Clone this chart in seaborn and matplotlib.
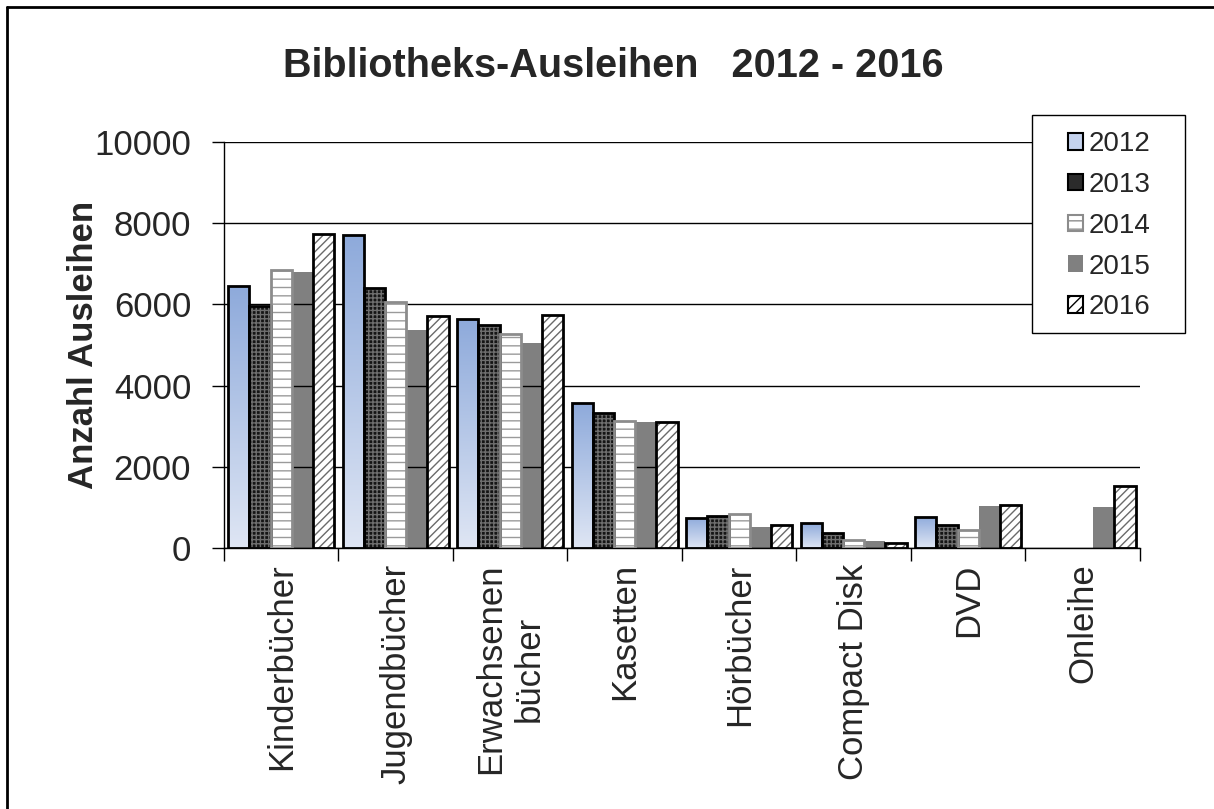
"""
Bibliotheks-Ausleihen 2012 - 2016 as grouped bar chart.
"""
import numpy as np
import pandas as pd
import matplotlib
matplotlib.use("Agg")
import matplotlib.pyplot as plt
import seaborn as sns
from matplotlib.patches import Patch, Rectangle
from matplotlib.colors import LinearSegmentedColormap

# Data
categories = ["Kinderbücher", "Jugendbücher", "Erwachsenen\nbücher", "Kasetten",
              "Hörbücher", "Compact Disk", "DVD", "Onleihe"]
years = ["2012", "2013", "2014", "2015", "2016"]
v2012 = [6450, 7700, 5630, 3560, 740, 615, 770, np.nan]
v2013 = [5950, 6400, 5500, 3330, 790, 375, 565, np.nan]
v2014 = [6850, 6050, 5260, 3140, 835, 190, 435, np.nan]
v2015 = [6800, 5380, 5040, 3100, 525, 180, 1040, 1010]
v2016 = [7730, 5720, 5740, 3110, 565, 130, 1050, 1535]
yticks = [0, 2000, 4000, 6000, 8000, 10000]

series = dict(zip(years, [v2012, v2013, v2014, v2015, v2016]))
rows = []
for year, vals in series.items():
    for cat, v in zip(categories, vals):
        rows.append({"Kategorie": cat, "Jahr": year, "Ausleihen": v})
df = pd.DataFrame(rows).dropna()

sns.set_style("white")
plt.rcParams['font.family'] = ['Liberation Sans', 'DejaVu Sans']
plt.rcParams['hatch.linewidth'] = 1.0

# face, hatch, hatch colour, edge colour, edge width
styles = {
    "2012": (None, None, None, "black", 2.0),
    "2013": ("#151515", "++++", "#6e6e6e", "black", 2.0),
    "2014": ("white", "--", "#9a9a9a", "#8c8c8c", 2.0),
    "2015": ("#808080", None, None, "none", 0.0),
    "2016": ("white", "////", "#6a6a6a", "black", 2.0),
}
blue_grad = LinearSegmentedColormap.from_list("blue_grad", ["#dfe6f4", "#8eaadb"])

fig = plt.figure(figsize=(12.14, 8.09), dpi=100)
ax = fig.add_axes([0.1845, 0.3226, 0.7545, 0.5019])

sns.barplot(data=df, x="Kategorie", y="Ausleihen", hue="Jahr", order=categories,
            hue_order=years, width=0.925, gap=0, saturation=1, errorbar=None,
            legend=False, ax=ax)

for year, container in zip(years, ax.containers):
    face, hatch, hcol, ecol, lw = styles[year]
    for bar in container:
        x0, w, h = bar.get_x(), bar.get_width(), bar.get_height()
        if year == "2012":
            bar.set_facecolor("none")
            bar.set_edgecolor("black")
            bar.set_linewidth(lw)
            bar.set_zorder(3)
            grad = np.linspace(0, 1, 256).reshape(-1, 1)
            img = ax.imshow(grad, cmap=blue_grad, aspect="auto", origin="lower",
                            extent=(x0, x0 + w, 0, h), zorder=2)
            img.set_clip_path(bar)
            continue
        bar.set_facecolor(face)
        if year == "2015":
            bar.set_edgecolor("none")
            bar.set_linewidth(0)
            bar.set_zorder(0.3)
            continue
        if hatch:
            bar.set_hatch(hatch)
            bar.set_edgecolor(hcol)
            bar.set_linewidth(0)
            bar.set_zorder(2)
            ax.add_patch(Rectangle((x0, 0), w, h, fill=False, edgecolor=ecol,
                                   linewidth=lw, zorder=3))

ax.set_xlim(-0.5, len(categories) - 0.5)
ax.set_ylim(0, 10000)
ax.set_yticks(yticks)
ax.set_axisbelow(True)
ax.yaxis.grid(True, color="black", linewidth=1.0, zorder=0.5)
ax.xaxis.grid(False)

for side in ["top", "right"]:
    ax.spines[side].set_visible(False)
for side in ["left", "bottom"]:
    ax.spines[side].set_color("black")
    ax.spines[side].set_linewidth(1.0)

ax.set_xticks(range(len(categories)))
ax.set_xticklabels(categories, rotation=90, fontsize=25)
ax.set_xticks(np.arange(-0.5, len(categories)), minor=True)
ax.tick_params(axis="x", which="major", length=0, pad=11)
ax.tick_params(axis="x", which="minor", length=9.5, width=1, color="black",
               direction="out", bottom=True)
ax.tick_params(axis="y", length=8.6, width=1, color="black", direction="out",
               pad=15, labelsize=25, left=True)

ax.set_xlabel("")
ax.set_ylabel("Anzahl Ausleihen", fontsize=25, fontweight="bold")
ax.yaxis.set_label_coords(-0.135, 0.5)

fig.text(0.505, 0.918, "Bibliotheks-Ausleihen   2012 - 2016", ha="center",
         va="center", fontsize=28.5, fontweight="bold")

handles = [
    Patch(facecolor="#c5d3ee", edgecolor="black", linewidth=1.5),
    Patch(facecolor="#2b2b2b", edgecolor="black", linewidth=1.5),
    Patch(facecolor="white", edgecolor="#8c8c8c", hatch="--", linewidth=1.5),
    Patch(facecolor="#808080", edgecolor="none"),
    Patch(facecolor="white", edgecolor="black", hatch="///", linewidth=1.5),
]
leg = fig.legend(handles, years, loc="upper left",
                 bbox_to_anchor=(1068 / 1214, 1 - 131 / 809),
                 fontsize=20, frameon=False, handlelength=0.55,
                 handleheight=0.55, handletextpad=0.2, labelspacing=0.535,
                 borderpad=0, borderaxespad=0)
leg.set_zorder(5)

# legend box (white, covers the gridlines)
fig.add_artist(Rectangle((1032 / 1214, 1 - 333 / 809), 153 / 1214, 218 / 809,
                         transform=fig.transFigure, facecolor="white",
                         edgecolor="black", linewidth=1.0, zorder=1))

# outer chart frame (top and left edges visible in the reference)
fig.add_artist(plt.Line2D([7 / 1214, 1], [1 - 7 / 809, 1 - 7 / 809],
                          transform=fig.transFigure, color="black", linewidth=2))
fig.add_artist(plt.Line2D([7 / 1214, 7 / 1214], [0, 1 - 7 / 809],
                          transform=fig.transFigure, color="black", linewidth=2))

fig.savefig("out.png", dpi=100, facecolor="white")
